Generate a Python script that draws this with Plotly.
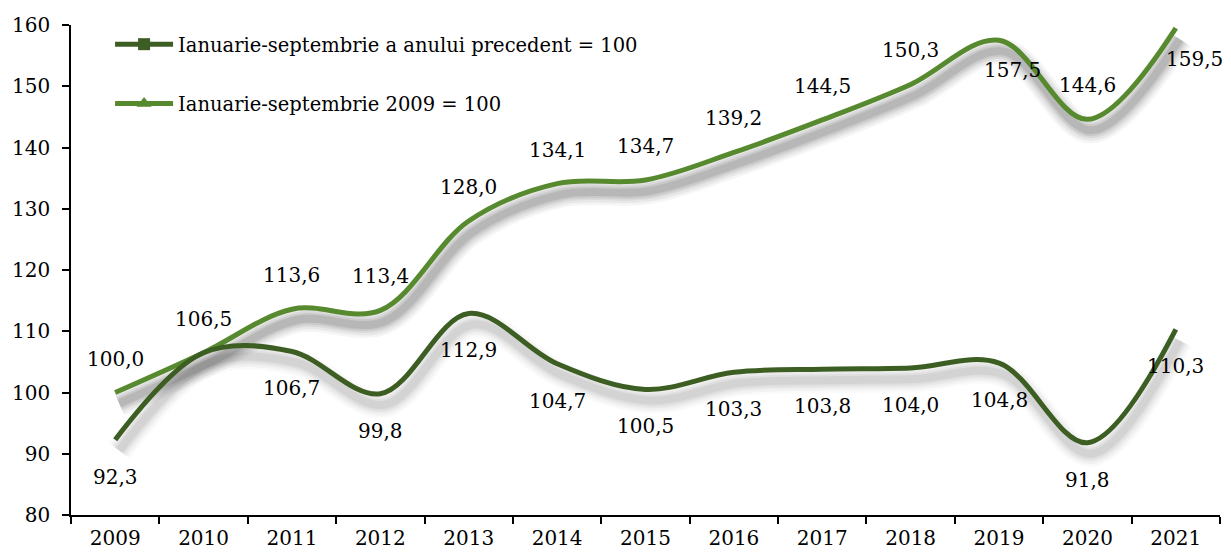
import plotly.graph_objects as go

years = [2009, 2010, 2011, 2012, 2013, 2014, 2015, 2016, 2017, 2018, 2019, 2020, 2021]
prev_year = [92.3, 106.5, 106.7, 99.8, 112.9, 104.7, 100.5, 103.3, 103.8, 104.0, 104.8, 91.8, 110.3]
base_2009 = [100.0, 106.5, 113.6, 113.4, 128.0, 134.1, 134.7, 139.2, 144.5, 150.3, 157.5, 144.6, 159.5]
name_prev = "Ianuarie-septembrie a anului precedent = 100"
name_base = "Ianuarie-septembrie 2009 = 100"
y_ticks = [80, 90, 100, 110, 120, 130, 140, 150, 160]

# label placement: (xshift, yshift) in px; None = hidden (overlapping label)
prev_label_pos = [(0, -37)] * 13
prev_label_pos[1] = None
base_label_pos = [(0, 34)] * 13
base_label_pos[10] = (13, -30)
base_label_pos[12] = (19, -31)

DARK = "#3d5e23"
LIGHT = "#578a2f"
FONT = "DejaVu Serif"
FS = 20

fig = go.Figure()

# soft drop shadows
shadow_dx, shadow_dy = 0.045, -1.8
for vals, alphas in ((base_2009, (0.04, 0.05, 0.06, 0.07, 0.09)),
                     (prev_year, (0.02, 0.03, 0.035, 0.04, 0.05))):
    for w, a in zip((26, 21, 16, 12, 8), alphas):
        fig.add_trace(go.Scatter(
            x=[v + shadow_dx for v in years], y=[v + shadow_dy for v in vals],
            mode="lines", line=dict(color=f"rgba(0,0,0,{a})", width=w, shape="spline", smoothing=1.0),
            hoverinfo="skip", showlegend=False))

fig.add_trace(go.Scatter(x=years, y=base_2009, mode="lines", name=name_base,
                         line=dict(color=LIGHT, width=5, shape="spline", smoothing=1.0),
                         showlegend=False))
fig.add_trace(go.Scatter(x=years, y=prev_year, mode="lines", name=name_prev,
                         line=dict(color=DARK, width=5, shape="spline", smoothing=1.0),
                         showlegend=False))

# legend entries
fig.add_trace(go.Scatter(x=[None], y=[None], mode="lines+markers", name=name_prev,
                         line=dict(color=DARK, width=5),
                         marker=dict(symbol="square", size=12, color=DARK),
                         legendgroup="a"))
fig.add_trace(go.Scatter(x=[None], y=[None], mode="lines+markers", name=name_base,
                         line=dict(color=LIGHT, width=5),
                         marker=dict(symbol="triangle-up", size=13, color=LIGHT),
                         legendgroup="b"))

def fmt(v):
    return f"{v:.1f}".replace(".", ",")

for vals, pos in ((base_2009, base_label_pos), (prev_year, prev_label_pos)):
    for x, v, p in zip(years, vals, pos):
        if p is None:
            continue
        fig.add_annotation(x=x, y=v, text=fmt(v), showarrow=False,
                           xshift=p[0], yshift=p[1],
                           font=dict(family=FONT, size=FS, color="black"))

boundaries = [y - 0.5 for y in years] + [years[-1] + 0.5]

fig.update_layout(
    width=1223, height=546,
    margin=dict(l=63, r=11, t=17, b=39, autoexpand=False),
    paper_bgcolor="white", plot_bgcolor="white",
    font=dict(family=FONT, size=FS, color="black"),
    legend=dict(x=0.034, y=1.0, xanchor="left", yanchor="top", itemwidth=58,
                bgcolor="rgba(0,0,0,0)", tracegroupgap=31,
                font=dict(family=FONT, size=19.5, color="black")),
    xaxis=dict(range=[years[0] - 0.5, years[-1] + 0.5], tickmode="array", tickvals=years,
               ticktext=[str(y) for y in years], ticks="", showgrid=False, zeroline=False,
               showline=True, linecolor="black", linewidth=1.5, ticklabelstandoff=4,
               automargin=False,
               minor=dict(tickmode="array", tickvals=boundaries, ticks="outside",
                          ticklen=7, tickwidth=1.5, tickcolor="black", showgrid=False),
               tickfont=dict(family=FONT, size=FS, color="black")),
    yaxis=dict(range=[80, 160], tickmode="array", tickvals=y_ticks, ticks="outside",
               ticklen=7, tickwidth=1.5, tickcolor="black", showgrid=False, zeroline=False,
               showline=True, linecolor="black", linewidth=1.5, ticklabelstandoff=8,
               automargin=False,
               tickfont=dict(family=FONT, size=FS, color="black")),
    showlegend=True,
)

fig.write_html("out.html")
